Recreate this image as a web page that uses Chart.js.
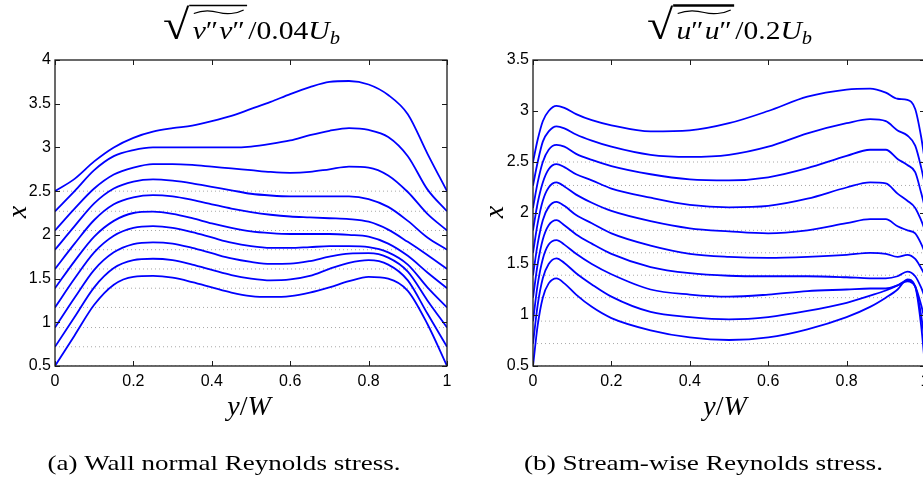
<!DOCTYPE html>
<html>
<head>
<meta charset="utf-8">
<script src="https://cdn.jsdelivr.net/npm/chart.js@4.4.0/dist/chart.umd.min.js"></script>
<style>
  html, body { margin: 0; padding: 0; background: #fff; overflow: hidden; width: 923px; height: 485px; }
  #page { position: relative; width: 960px; height: 485px; }
  .panel { position: absolute; top: 0; width: 460px; height: 485px; }
</style>
</head>
<body>
<div id="page">
  <div class="panel" style="left:0px"><canvas id="normalChart" width="460" height="485"></canvas></div>
  <div class="panel" style="left:478px"><canvas id="streamChart" width="460" height="485"></canvas></div>
</div>
<script>
// stations where each profile is sampled (y/W)
const normalPos = [0, 0.05, 0.1, 0.15, 0.2, 0.25, 0.3, 0.35, 0.4, 0.45, 0.5, 0.55, 0.6, 0.65, 0.7, 0.75, 0.8, 0.85, 0.9, 0.95, 1];
const streamPos = [0, 0.012, 0.025, 0.04, 0.06, 0.08, 0.11, 0.15, 0.2, 0.3, 0.4, 0.5, 0.6, 0.7, 0.8, 0.86, 0.9, 0.93, 0.955, 0.975, 0.99, 1];

// downstream stations x, each profile is offset to its own station
const stations = [0.5, 0.72, 0.94, 1.17, 1.39, 1.61, 1.83, 2.05, 2.27, 2.5];

// sqrt(v''v'')/0.04Ub added to the station value
const normal0 = [0.50, 0.85, 1.20, 1.43, 1.52, 1.53, 1.51, 1.46, 1.40, 1.34, 1.30, 1.29, 1.30, 1.34, 1.40, 1.47, 1.52, 1.50, 1.36, 0.98, 0.50];
const normal1 = [0.72, 1.06, 1.40, 1.62, 1.71, 1.727, 1.71, 1.66, 1.60, 1.54, 1.50, 1.48, 1.49, 1.53, 1.61, 1.68, 1.71, 1.66, 1.48, 1.10, 0.72];
const normal2 = [0.94, 1.28, 1.60, 1.80, 1.895, 1.915, 1.90, 1.85, 1.79, 1.73, 1.69, 1.667, 1.67, 1.70, 1.75, 1.785, 1.79, 1.74, 1.58, 1.25, 0.94];
const normal3 = [1.17, 1.50, 1.80, 1.99, 2.08, 2.10, 2.08, 2.03, 1.97, 1.91, 1.87, 1.85, 1.85, 1.86, 1.87, 1.87, 1.86, 1.80, 1.66, 1.40, 1.17];
const normal4 = [1.39, 1.70, 1.98, 2.16, 2.25, 2.265, 2.24, 2.19, 2.13, 2.08, 2.04, 2.02, 2.01, 2.01, 2.01, 2.00, 1.98, 1.90, 1.76, 1.57, 1.39];
const normal5 = [1.61, 1.90, 2.17, 2.35, 2.43, 2.455, 2.44, 2.40, 2.35, 2.30, 2.26, 2.23, 2.21, 2.20, 2.19, 2.18, 2.15, 2.06, 1.92, 1.77, 1.61];
const normal6 = [1.83, 2.10, 2.36, 2.53, 2.61, 2.635, 2.62, 2.59, 2.55, 2.51, 2.47, 2.45, 2.44, 2.44, 2.44, 2.44, 2.41, 2.32, 2.16, 1.97, 1.83];
const normal7 = [2.05, 2.30, 2.53, 2.69, 2.77, 2.81, 2.81, 2.80, 2.78, 2.76, 2.74, 2.72, 2.71, 2.72, 2.75, 2.78, 2.77, 2.68, 2.49, 2.24, 2.05];
const normal8 = [2.27, 2.50, 2.74, 2.90, 2.97, 3.00, 3.00, 3.00, 3.00, 3.00, 3.01, 3.04, 3.08, 3.14, 3.19, 3.22, 3.20, 3.12, 2.90, 2.52, 2.27];
const normal9 = [2.50, 2.64, 2.84, 3.00, 3.11, 3.18, 3.22, 3.25, 3.30, 3.36, 3.44, 3.52, 3.61, 3.69, 3.75, 3.76, 3.72, 3.60, 3.38, 2.93, 2.50];

// sqrt(u''u'')/0.2Ub added to the station value
const stream0 = [0.50, 0.90, 1.17, 1.31, 1.36, 1.31, 1.20, 1.08, 0.97, 0.85, 0.78, 0.755, 0.78, 0.86, 0.98, 1.08, 1.17, 1.25, 1.35, 1.28, 0.90, 0.50];
const stream1 = [0.72, 1.10, 1.36, 1.50, 1.556, 1.51, 1.41, 1.30, 1.18, 1.03, 0.98, 0.958, 0.98, 1.04, 1.12, 1.19, 1.24, 1.29, 1.34, 1.28, 1.00, 0.72];
const stream2 = [0.94, 1.30, 1.55, 1.69, 1.735, 1.69, 1.60, 1.50, 1.40, 1.25, 1.20, 1.18, 1.20, 1.235, 1.25, 1.26, 1.26, 1.29, 1.33, 1.28, 1.10, 0.94];
const stream3 = [1.17, 1.50, 1.74, 1.88, 1.93, 1.88, 1.79, 1.70, 1.60, 1.47, 1.41, 1.385, 1.38, 1.38, 1.37, 1.36, 1.36, 1.38, 1.425, 1.38, 1.27, 1.17];
const stream4 = [1.39, 1.70, 1.93, 2.06, 2.11, 2.07, 1.98, 1.90, 1.80, 1.68, 1.60, 1.57, 1.56, 1.57, 1.59, 1.61, 1.60, 1.57, 1.59, 1.55, 1.46, 1.39];
const stream5 = [1.61, 1.90, 2.12, 2.25, 2.30, 2.26, 2.18, 2.10, 2.02, 1.92, 1.85, 1.82, 1.80, 1.83, 1.90, 1.94, 1.94, 1.87, 1.83, 1.80, 1.70, 1.61];
const stream6 = [1.83, 2.10, 2.30, 2.43, 2.48, 2.45, 2.38, 2.32, 2.24, 2.15, 2.08, 2.056, 2.07, 2.14, 2.25, 2.30, 2.29, 2.19, 2.12, 2.05, 1.93, 1.83];
const stream7 = [2.05, 2.30, 2.50, 2.62, 2.667, 2.65, 2.58, 2.52, 2.46, 2.38, 2.33, 2.32, 2.35, 2.44, 2.56, 2.62, 2.62, 2.53, 2.47, 2.40, 2.20, 2.05];
const stream8 = [2.27, 2.50, 2.70, 2.80, 2.85, 2.83, 2.77, 2.71, 2.65, 2.57, 2.55, 2.57, 2.65, 2.78, 2.88, 2.92, 2.90, 2.81, 2.76, 2.66, 2.45, 2.27];
const stream9 = [2.50, 2.72, 2.90, 3.00, 3.05, 3.03, 2.97, 2.91, 2.86, 2.80, 2.81, 2.88, 3.00, 3.14, 3.21, 3.22, 3.18, 3.12, 3.11, 3.02, 2.75, 2.50];

const normalRangeY = [0.5, 4];
const streamRangeY = [0.5, 3.5];

const curveBlue = '#0000ff';
const serif = '"Liberation Serif", "DejaVu Serif", serif';

function runsWidth(ctx, runs) {
  let w = 0;
  for (const r of runs) { ctx.font = r.font; w += ctx.measureText(r.t).width + (r.gap || 0); }
  return w;
}
function drawRuns(ctx, runs, x, y) {
  for (const r of runs) {
    ctx.font = r.font;
    ctx.fillText(r.t, x, y + (r.dy || 0));
    x += ctx.measureText(r.t).width + (r.gap || 0);
  }
  return x;
}

// sqrt(arg) followed by the scaling; everything is stretched sideways to width
function drawRootTitle(ctx, cx, base, argRuns, restRuns, barWidth, width) {
  const top = 5, bottom = 40;
  ctx.font = '30px ' + serif;
  let m = ctx.measureText('\u221A');
  const size = 30 * (bottom - top) / (m.actualBoundingBoxAscent + m.actualBoundingBoxDescent);
  const radFont = size.toFixed(1) + 'px ' + serif;
  ctx.font = radFont;
  m = ctx.measureText('\u221A');
  const radW = m.actualBoundingBoxRight;
  const argW = runsWidth(ctx, argRuns);
  const restW = runsWidth(ctx, restRuns);
  const total = radW + 2 + argW + 3 + restW;
  const k = width / total;

  ctx.save();
  ctx.translate(cx - width / 2, 0);
  ctx.scale(k, 1);
  let x = 0;
  ctx.font = radFont;
  ctx.fillText('\u221A', x, top + m.actualBoundingBoxAscent);
  const barY = top + 0.5;
  const argX = x + radW + 2;
  ctx.beginPath();
  ctx.lineWidth = barWidth;
  ctx.moveTo(x + radW - 1, barY);
  ctx.lineTo(argX + argW + 2, barY);
  ctx.stroke();
  // wide tilde over the product
  const x0 = argX + 1, x1 = argX + argW - 1, w = x1 - x0, yc = 12;
  ctx.beginPath();
  ctx.lineWidth = 1.1;
  ctx.moveTo(x0, yc + 1.5);
  ctx.bezierCurveTo(x0 + w * 0.2, yc - 2.5, x0 + w * 0.35, yc - 1.5, x0 + w * 0.5, yc + 0.5);
  ctx.bezierCurveTo(x0 + w * 0.65, yc + 2.5, x0 + w * 0.85, yc + 2, x1, yc - 2);
  ctx.stroke();
  drawRuns(ctx, argRuns, argX, base);
  drawRuns(ctx, restRuns, argX + argW + 3, base);
  ctx.restore();
}

function drawWide(ctx, text, font, cx, y, width) {
  ctx.font = font;
  const k = width / ctx.measureText(text).width;
  ctx.save();
  ctx.translate(cx, y);
  ctx.scale(k, 1);
  ctx.textAlign = 'center';
  ctx.fillText(text, 0, 0);
  ctx.restore();
}

const decorations = {
  id: 'decorations',
  afterDraw(chart, args, opts) {
    const ctx = chart.ctx;
    const { left, right, top, bottom } = chart.chartArea;
    const xs = chart.scales.x, ys = chart.scales.y;
    ctx.save();
    ctx.strokeStyle = '#1a1a1a';
    ctx.fillStyle = '#000';
    // box and inward ticks on all four sides
    ctx.lineWidth = 1.3;
    ctx.strokeRect(left, top, right - left, bottom - top);
    ctx.lineWidth = 1;
    ctx.beginPath();
    xs.ticks.forEach(t => {
      const px = Math.round(xs.getPixelForValue(t.value)) + 0.5;
      ctx.moveTo(px, bottom); ctx.lineTo(px, bottom - 5);
      ctx.moveTo(px, top); ctx.lineTo(px, top + 5);
    });
    ys.ticks.forEach(t => {
      const py = Math.round(ys.getPixelForValue(t.value)) + 0.5;
      ctx.moveTo(left, py); ctx.lineTo(left + 5, py);
      ctx.moveTo(right, py); ctx.lineTo(right - 5, py);
    });
    ctx.stroke();

    ctx.textBaseline = 'alphabetic';
    ctx.textAlign = 'left';
    ctx.strokeStyle = '#000';
    drawRootTitle(ctx, opts.titleX, 39, opts.arg, opts.rest, opts.barWidth, opts.titleWidth);

    // y/W under the axis
    const xl = [
      { t: 'y', font: 'italic 28px ' + serif },
      { t: '/', font: '28px ' + serif },
      { t: 'W', font: 'italic 28px ' + serif }
    ];
    drawRuns(ctx, xl, opts.xLabelX - runsWidth(ctx, xl) / 2, 415);

    // x along the side
    ctx.save();
    ctx.translate(opts.yLabelX, 212);
    ctx.rotate(-Math.PI / 2);
    ctx.font = 'italic 28px ' + serif;
    ctx.textAlign = 'center';
    ctx.fillText('x', 0, 0);
    ctx.restore();

    // caption
    drawWide(ctx, opts.caption, '22px ' + serif, opts.captionX, 470, opts.captionWidth);
    ctx.restore();
  }
};

const tickText = v => String(Number(v.toFixed(2)));

function buildChart(id, pos, curves, yRange, deco) {
  const datasets = [];
  curves.forEach(vals => {
    datasets.push({
      data: pos.map((p, i) => ({ x: p, y: vals[i] })),
      borderColor: curveBlue,
      borderWidth: 1.8,
      pointRadius: 0,
      fill: false,
      cubicInterpolationMode: 'monotone'
    });
  });
  stations.forEach(s => {
    datasets.push({
      data: [{ x: 0, y: s }, { x: 1, y: s }],
      borderColor: '#a8a8a8',
      borderWidth: 1,
      borderDash: [1, 3],
      pointRadius: 0,
      fill: false
    });
  });

  return new Chart(document.getElementById(id), {
    type: 'line',
    data: { datasets },
    options: {
      responsive: false,
      animation: false,
      devicePixelRatio: 1,
      layout: { padding: { top: 60, right: 13, left: 0, bottom: 0 } },
      plugins: {
        legend: { display: false },
        tooltip: { enabled: false },
        decorations: deco
      },
      scales: {
        x: {
          type: 'linear', min: 0, max: 1,
          afterFit: s => { s.height = 119; },
          grid: { display: false, drawTicks: false },
          border: { display: false },
          ticks: { stepSize: 0.2, padding: 6, autoSkip: false, maxRotation: 0, color: '#000',
                   font: { family: 'Liberation Sans', size: 16 }, callback: tickText }
        },
        y: {
          type: 'linear', min: yRange[0], max: yRange[1],
          afterFit: s => { s.width = 55; },
          grid: { display: false, drawTicks: false },
          border: { display: false },
          ticks: { stepSize: 0.5, padding: 4, autoSkip: false, color: '#000',
                   font: { family: 'Liberation Sans', size: 16 }, callback: tickText }
        }
      }
    },
    plugins: [decorations]
  });
}

document.addEventListener('DOMContentLoaded', function () {
  const it = 'italic 26px ' + serif, rm = '26px ' + serif;
  buildChart('normalChart', normalPos,
    [normal0, normal1, normal2, normal3, normal4, normal5, normal6, normal7, normal8, normal9],
    normalRangeY,
    {
      titleX: 251.5, titleWidth: 177, xLabelX: 249, yLabelX: 26, captionX: 224, captionWidth: 353, barWidth: 1.6,
      caption: '(a) Wall normal Reynolds stress.',
      arg: [{ t: 'v', font: it }, { t: '\u2033', font: rm, gap: 1 }, { t: 'v', font: it }, { t: '\u2033', font: rm }],
      rest: [{ t: '/0.04', font: rm }, { t: 'U', font: it }, { t: 'b', font: 'italic 18px ' + serif, dy: 5 }]
    });
  buildChart('streamChart', streamPos,
    [stream0, stream1, stream2, stream3, stream4, stream5, stream6, stream7, stream8, stream9],
    streamRangeY,
    {
      titleX: 251.5, titleWidth: 165, xLabelX: 247, yLabelX: 25, captionX: 225.5, captionWidth: 359, barWidth: 2.6,
      caption: '(b) Stream-wise Reynolds stress.',
      arg: [{ t: 'u', font: it }, { t: '\u2033', font: rm, gap: 1 }, { t: 'u', font: it }, { t: '\u2033', font: rm }],
      rest: [{ t: '/0.2', font: rm }, { t: 'U', font: it }, { t: 'b', font: 'italic 18px ' + serif, dy: 5 }]
    });
});
</script>
</body>
</html>
